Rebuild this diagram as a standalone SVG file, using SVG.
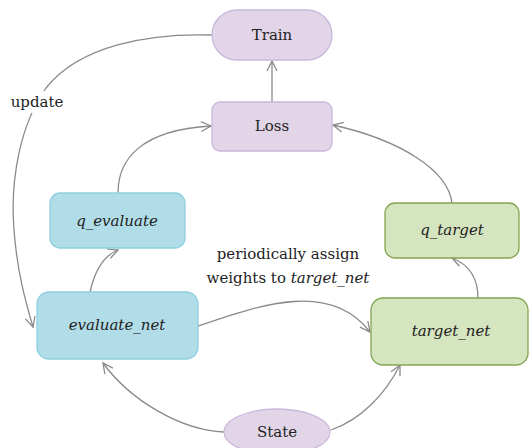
<svg xmlns="http://www.w3.org/2000/svg" width="529" height="448" viewBox="0 0 529 448">
<style>
.p{fill:#e1d5e7;stroke:#c8b8dc;stroke-width:1.3}
.b{fill:#b1dde8;stroke:#8fcfe0;stroke-width:1.3}
.g{fill:#d5e5c0;stroke:#84a552;stroke-width:1.3}
text{font-family:'DejaVu Serif','Liberation Serif',serif;font-size:15px;fill:#222;text-anchor:middle;dominant-baseline:central}
.i{font-style:italic}
.e{fill:none;stroke:#8a8a8a;stroke-width:1.3;marker-end:url(#a)}
</style>
<defs>
<marker id="a" viewBox="0 0 12 12" refX="11" refY="6" markerWidth="12" markerHeight="12" markerUnits="userSpaceOnUse" orient="auto">
<path d="M1,1 L11,6 L1,11" fill="none" stroke="#8a8a8a" stroke-width="1.3"/>
</marker>
</defs>
<g id="connectors">
<path class="e" d="M272,102 L272,61"/>
<path class="e" d="M212,35 C150,33 80,45 46,88 C20,125 10,180 14,230 C17,270 25,300 33,327"/>
<path class="e" d="M118,193 C118,160 140,130 211,126"/>
<path class="e" d="M90,292 C95,270 105,255 118,250"/>
<path class="e" d="M198,326 C260,305 330,280 370,332"/>
<path class="e" d="M452,203 C448,170 400,140 333,125"/>
<path class="e" d="M478,298 C478,280 470,265 452,258"/>
<path class="e" d="M224,432 C180,430 130,400 103,363"/>
<path class="e" d="M331,430 C360,420 385,395 400,365"/>
</g>
<rect x="8" y="91" width="58" height="22" fill="#fff"/>
<text x="37" y="102">update</text>
<text x="288" y="254">periodically assign</text>
<text x="288" y="278">weights to <tspan class="i">target_net</tspan></text>
<g id="train"><rect class="p" x="212" y="10" width="120" height="50" rx="25"/><text x="272" y="35">Train</text></g>
<g id="loss"><rect class="p" x="212" y="102" width="120" height="49" rx="8"/><text x="272" y="126">Loss</text></g>
<g id="q_evaluate"><rect class="b" x="50" y="193" width="135" height="55" rx="10"/><text class="i" x="117" y="221">q_evaluate</text></g>
<g id="evaluate_net"><rect class="b" x="37" y="292" width="161" height="67" rx="12"/><text class="i" x="117" y="325">evaluate_net</text></g>
<g id="q_target"><rect class="g" x="385" y="203" width="134" height="55" rx="10"/><text class="i" x="452" y="230">q_target</text></g>
<g id="target_net"><rect class="g" x="371" y="298" width="157" height="67" rx="12"/><text class="i" x="451" y="331">target_net</text></g>
<g id="state"><ellipse class="p" cx="277" cy="432" rx="53" ry="23"/><text x="277" y="432">State</text></g>
</svg>
